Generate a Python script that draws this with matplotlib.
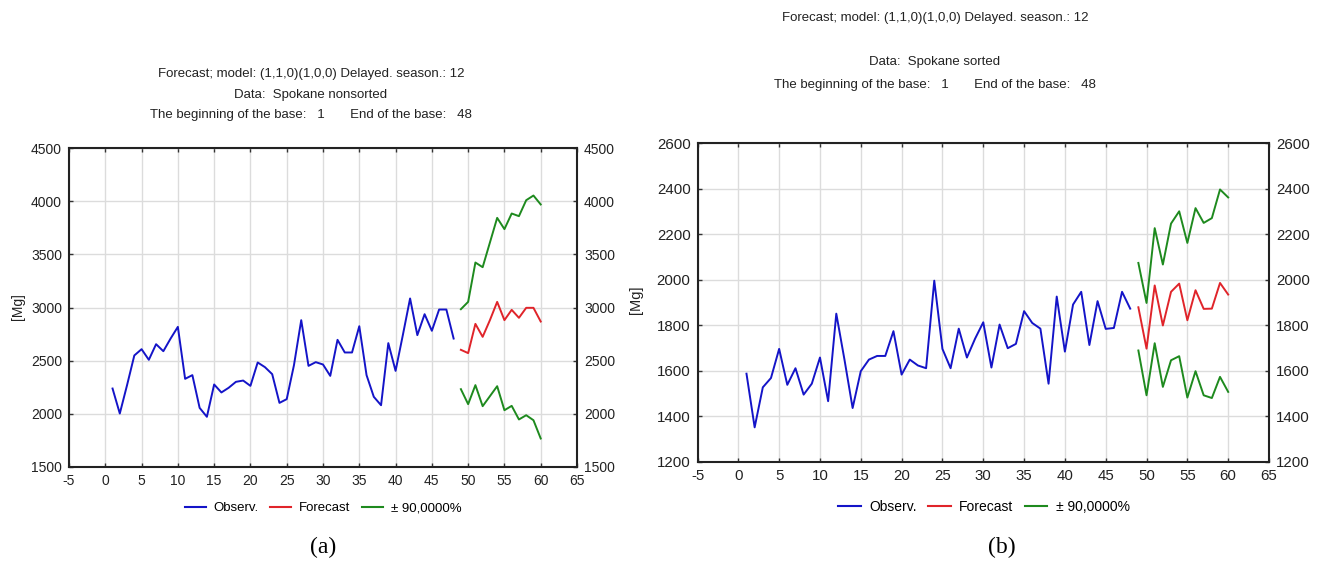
import matplotlib
matplotlib.use("Agg")
import matplotlib.pyplot as plt
from matplotlib.lines import Line2D
import numpy as np

plt.rcParams['font.family'] = ['Liberation Sans', 'DejaVu Sans']
plt.rcParams['axes.unicode_minus'] = False

# ---------------- data: chart (a) Spokane nonsorted ----------------
obs_x = list(range(1, 49))
obs_a = [2238, 2003, 2270, 2549, 2608, 2508, 2655, 2589, 2708, 2818,
         2329, 2364, 2056, 1972, 2276, 2201, 2245, 2301, 2313, 2263,
         2483, 2439, 2373, 2103, 2138, 2458, 2881, 2451, 2486, 2464,
         2357, 2696, 2577, 2577, 2824, 2364, 2160, 2081, 2665, 2404,
         2740, 3085, 2740, 2937, 2781, 2981, 2981, 2708]
fc_x = list(range(49, 61))
fc_a = [2602, 2571, 2846, 2724, 2881, 3053, 2881, 2978, 2903, 2997, 2997, 2868]
up_a = [2984, 3053, 3423, 3379, 3611, 3843, 3737, 3884, 3859, 4009, 4053, 3969]
lo_a = [2232, 2091, 2270, 2072, 2166, 2260, 2034, 2075, 1947, 1987, 1940, 1768]

# ---------------- data: chart (b) Spokane sorted ----------------
obs_b = [1587, 1351, 1527, 1568, 1696, 1538, 1611, 1495, 1543, 1658,
         1466, 1851, 1649, 1436, 1598, 1649, 1665, 1665, 1774, 1583,
         1649, 1623, 1611, 1996, 1696, 1611, 1785, 1658, 1741, 1813,
         1614, 1803, 1699, 1718, 1862, 1810, 1785, 1543, 1926, 1684,
         1891, 1947, 1713, 1906, 1784, 1788, 1947, 1873]
fc_b = [1879, 1697, 1975, 1799, 1947, 1983, 1822, 1954, 1872, 1873, 1986, 1935]
up_b = [2074, 1898, 2227, 2067, 2247, 2301, 2162, 2315, 2250, 2271, 2397, 2362]
lo_b = [1689, 1492, 1721, 1529, 1646, 1664, 1482, 1598, 1492, 1480, 1573, 1507]

x_ticks = list(range(-5, 70, 5))
y_ticks_a = list(range(1500, 5000, 500))
y_ticks_b = list(range(1200, 2800, 200))

title_a = ["Forecast; model: (1,1,0)(1,0,0) Delayed. season.: 12",
           "Data:  Spokane nonsorted",
           "The beginning of the base:   1       End of the base:   48"]
title_b = ["Forecast; model: (1,1,0)(1,0,0) Delayed. season.: 12",
           "Data:  Spokane sorted",
           "The beginning of the base:   1       End of the base:   48"]
legend_labels = ["Observ.", "Forecast", "\u00b1 90,0000%"]

C_OBS = '#1414c8'
C_FC = '#e0242a'
C_CI = '#1e8a1e'

W, H = 1320, 562
fig = plt.figure(figsize=(W / 100, H / 100), dpi=100)


def fx(px):
    return px / W


def fy(py):
    return 1 - py / H


def panel(rect, obs, fc, up, lo, yticks, lsize):
    ax = fig.add_axes(rect)
    ax.plot(obs_x, obs, color=C_OBS, lw=1.4)
    ax.plot(fc_x, fc, color=C_FC, lw=1.4)
    ax.plot(fc_x, up, color=C_CI, lw=1.4)
    ax.plot(fc_x, lo, color=C_CI, lw=1.4)
    ax.set_xlim(-5, 65)
    ax.set_ylim(yticks[0], yticks[-1])
    ax.set_xticks(x_ticks)
    ax.set_yticks(yticks)
    ax.grid(True, color='#dcdcdc', lw=1.0)
    ax.set_axisbelow(True)
    for s in ax.spines.values():
        s.set_color('#222222')
        s.set_linewidth(1.5)
    ax.tick_params(direction='in', length=3, width=1, colors='#333333',
                   labelcolor='#222222', labelsize=lsize,
                   top=True, right=True, labelright=True, pad=5)
    return ax


# axes (a)
ax1 = panel([fx(69), fy(467), fx(577 - 69), (467 - 148) / H],
            obs_a, fc_a, up_a, lo_a, y_ticks_a, 10)
fig.text(fx(18), fy(307), "[Mg]", rotation=90, ha='center', va='center',
         fontsize=10, color='#222222')

# axes (b)
ax2 = panel([fx(697.5), fy(461.7), fx(1269 - 697.5), (461.7 - 143.3) / H],
            obs_b, fc_b, up_b, lo_b, y_ticks_b, 10.8)
fig.text(fx(636), fy(300), "[Mg]", rotation=90, ha='center', va='center',
         fontsize=10.5, color='#222222')

# titles
for t, yy in zip(title_a, [74, 95, 115]):
    fig.text(fx(311), fy(yy), t, ha='center', va='center', fontsize=9.5,
             color='#222222')
for t, yy in zip(title_b, [18, 62, 85]):
    fig.text(fx(935), fy(yy), t, ha='center', va='center', fontsize=9.5,
             color='#222222')

# legends
handles = [Line2D([], [], color=c, lw=1.5) for c in (C_OBS, C_FC, C_CI)]
for cx, cy, fs in [(323, 508, 9.5), (984, 507, 10)]:
    fig.legend(handles, legend_labels, loc='center', bbox_to_anchor=(fx(cx), fy(cy)),
               ncol=3, frameon=False, fontsize=fs, handlelength=1.6,
               handletextpad=0.6, columnspacing=0.85)

# panel labels
fig.text(fx(323), fy(547), "(a)", ha='center', va='center', fontsize=17,
         family=['Liberation Serif', 'DejaVu Serif'])
fig.text(fx(1002), fy(547), "(b)", ha='center', va='center', fontsize=17,
         family=['Liberation Serif', 'DejaVu Serif'])

fig.savefig("out.png", dpi=100, facecolor='white')
